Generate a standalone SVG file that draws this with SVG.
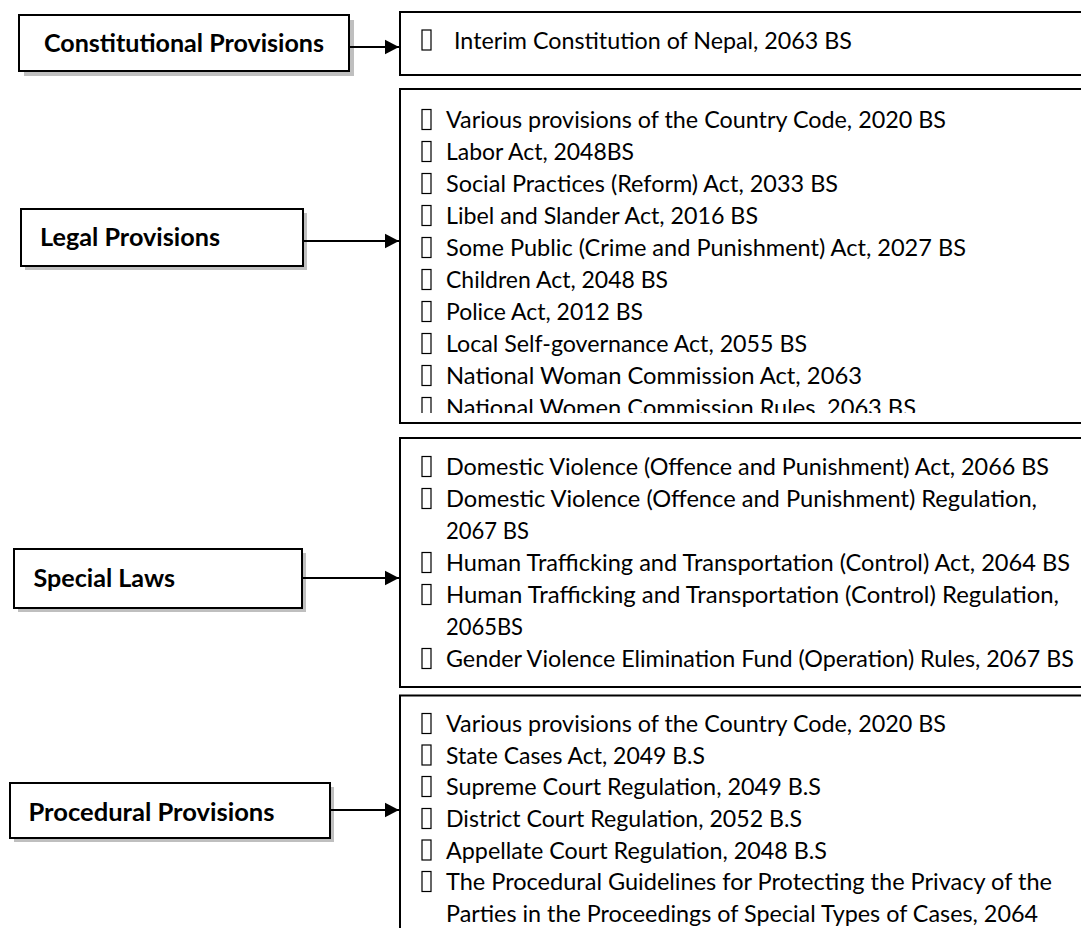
<svg xmlns="http://www.w3.org/2000/svg" width="1081" height="928" viewBox="0 0 1081 928">
<style>
.bg{fill:#ffffff}
.box{fill:#ffffff;stroke:#000000;stroke-width:2}
.shadow{fill:#bfbfbf}
.lbl{font-family:"Lato","Liberation Sans",sans-serif;font-weight:bold;font-size:24.5px;fill:#000000}
.itm{font-family:"Lato","Liberation Sans",sans-serif;font-size:23px;fill:#000000}
.blt{fill:none;stroke:#000000;stroke-width:1.2}
.conn{stroke:#000000;stroke-width:2;fill:none}
</style>
<defs>
<marker id="arrow" markerWidth="8" markerHeight="8" refX="7" refY="4" orient="auto" markerUnits="strokeWidth">
<path d="M0,0.4 L7,4 L0,7.6 Z" fill="#000000"/>
</marker>
<clipPath id="clipLegal"><rect x="400" y="89" width="690" height="324"/></clipPath>
</defs>
<rect class="bg" x="0" y="0" width="1081" height="928"/>

<g id="node-constitutional">
<rect class="shadow" x="24" y="20" width="330" height="56"/>
<rect class="box" x="19" y="15" width="330" height="56"/>
<text class="lbl" x="44" y="51.5" textLength="280" lengthAdjust="spacingAndGlyphs">Constitutional Provisions</text>
</g>

<g id="node-legal">
<rect class="shadow" x="25" y="213" width="282" height="57"/>
<rect class="box" x="21" y="209" width="282" height="57"/>
<text class="lbl" x="40" y="245.5" textLength="180" lengthAdjust="spacingAndGlyphs">Legal Provisions</text>
</g>

<g id="node-special">
<rect class="shadow" x="18" y="553" width="288" height="59"/>
<rect class="box" x="14" y="549" width="288" height="59"/>
<text class="lbl" x="33.5" y="587" textLength="141.5" lengthAdjust="spacingAndGlyphs">Special Laws</text>
</g>

<g id="node-procedural">
<rect class="shadow" x="14" y="787" width="320" height="55"/>
<rect class="box" x="10" y="783" width="320" height="55"/>
<text class="lbl" x="28.5" y="821" textLength="246" lengthAdjust="spacingAndGlyphs">Procedural Provisions</text>
</g>

<g id="node-constitutional-list">
<rect class="box" x="400" y="12" width="700" height="63"/>
<rect class="blt" x="422" y="30" width="9" height="20"/>
<text class="itm" x="454" y="48.5" textLength="398" lengthAdjust="spacingAndGlyphs">Interim Constitution of Nepal, 2063 BS</text>
</g>

<g id="node-legal-list">
<rect class="box" x="400" y="89" width="700" height="334"/>
<g clip-path="url(#clipLegal)">
<rect class="blt" x="422" y="109.5" width="9" height="20"/>
<text class="itm" x="446" y="128" textLength="500" lengthAdjust="spacingAndGlyphs">Various provisions of the Country Code, 2020 BS</text>
<rect class="blt" x="422" y="141.5" width="9" height="20"/>
<text class="itm" x="446" y="160" textLength="188" lengthAdjust="spacingAndGlyphs">Labor Act, 2048BS</text>
<rect class="blt" x="422" y="173.5" width="9" height="20"/>
<text class="itm" x="446" y="192" textLength="392" lengthAdjust="spacingAndGlyphs">Social Practices (Reform) Act, 2033 BS</text>
<rect class="blt" x="422" y="205.5" width="9" height="20"/>
<text class="itm" x="446" y="224" textLength="312" lengthAdjust="spacingAndGlyphs">Libel and Slander Act, 2016 BS</text>
<rect class="blt" x="422" y="237.5" width="9" height="20"/>
<text class="itm" x="446" y="256" textLength="520" lengthAdjust="spacingAndGlyphs">Some Public (Crime and Punishment) Act, 2027 BS</text>
<rect class="blt" x="422" y="269.5" width="9" height="20"/>
<text class="itm" x="446" y="288" textLength="222" lengthAdjust="spacingAndGlyphs">Children Act, 2048 BS</text>
<rect class="blt" x="422" y="301.5" width="9" height="20"/>
<text class="itm" x="446" y="320" textLength="197" lengthAdjust="spacingAndGlyphs">Police Act, 2012 BS</text>
<rect class="blt" x="422" y="333.5" width="9" height="20"/>
<text class="itm" x="446" y="352" textLength="361" lengthAdjust="spacingAndGlyphs">Local Self-governance Act, 2055 BS</text>
<rect class="blt" x="422" y="365.5" width="9" height="20"/>
<text class="itm" x="446" y="384" textLength="416" lengthAdjust="spacingAndGlyphs">National Woman Commission Act, 2063</text>
<rect class="blt" x="422" y="397.5" width="9" height="20"/>
<text class="itm" x="446" y="416" textLength="470" lengthAdjust="spacingAndGlyphs">National Women Commission Rules, 2063 BS</text>
</g>
</g>

<g id="node-special-list">
<rect class="box" x="400" y="438" width="700" height="249"/>
<rect class="blt" x="422" y="456.5" width="9" height="20"/>
<text class="itm" x="446" y="475" textLength="603" lengthAdjust="spacingAndGlyphs">Domestic Violence (Offence and Punishment) Act, 2066 BS</text>
<rect class="blt" x="422" y="488.5" width="9" height="20"/>
<text class="itm" x="446" y="507" textLength="591" lengthAdjust="spacingAndGlyphs">Domestic Violence (Offence and Punishment) Regulation,</text>
<text class="itm" x="446" y="539" textLength="83" lengthAdjust="spacingAndGlyphs">2067 BS</text>
<rect class="blt" x="422" y="552.5" width="9" height="20"/>
<text class="itm" x="446" y="571" textLength="624" lengthAdjust="spacingAndGlyphs">Human Trafficking and Transportation (Control) Act, 2064 BS</text>
<rect class="blt" x="422" y="584.5" width="9" height="20"/>
<text class="itm" x="446" y="603" textLength="613" lengthAdjust="spacingAndGlyphs">Human Trafficking and Transportation (Control) Regulation,</text>
<text class="itm" x="446" y="635" textLength="77" lengthAdjust="spacingAndGlyphs">2065BS</text>
<rect class="blt" x="422" y="648.5" width="9" height="20"/>
<text class="itm" x="446" y="667" textLength="628" lengthAdjust="spacingAndGlyphs">Gender Violence Elimination Fund (Operation) Rules, 2067 BS</text>
</g>

<g id="node-procedural-list">
<rect class="box" x="400" y="695.5" width="700" height="260"/>
<rect class="blt" x="422" y="713.5" width="9" height="20"/>
<text class="itm" x="446" y="732" textLength="500" lengthAdjust="spacingAndGlyphs">Various provisions of the Country Code, 2020 BS</text>
<rect class="blt" x="422" y="745" width="9" height="20"/>
<text class="itm" x="446" y="763.5" textLength="259" lengthAdjust="spacingAndGlyphs">State Cases Act, 2049 B.S</text>
<rect class="blt" x="422" y="776.5" width="9" height="20"/>
<text class="itm" x="446" y="795" textLength="375" lengthAdjust="spacingAndGlyphs">Supreme Court Regulation, 2049 B.S</text>
<rect class="blt" x="422" y="808.5" width="9" height="20"/>
<text class="itm" x="446" y="827" textLength="356" lengthAdjust="spacingAndGlyphs">District Court Regulation, 2052 B.S</text>
<rect class="blt" x="422" y="840" width="9" height="20"/>
<text class="itm" x="446" y="858.5" textLength="381" lengthAdjust="spacingAndGlyphs">Appellate Court Regulation, 2048 B.S</text>
<rect class="blt" x="422" y="871.5" width="9" height="20"/>
<text class="itm" x="446" y="890" textLength="606" lengthAdjust="spacingAndGlyphs">The Procedural Guidelines for Protecting the Privacy of the</text>
<text class="itm" x="446" y="921.5" textLength="592" lengthAdjust="spacingAndGlyphs">Parties in the Proceedings of Special Types of Cases, 2064</text>
</g>

<g id="connectors">
<line class="conn" x1="349" y1="47" x2="399" y2="47" marker-end="url(#arrow)"/>
<line class="conn" x1="303" y1="241" x2="399" y2="241" marker-end="url(#arrow)"/>
<line class="conn" x1="302" y1="578" x2="399" y2="578" marker-end="url(#arrow)"/>
<line class="conn" x1="330" y1="810" x2="399" y2="810" marker-end="url(#arrow)"/>
</g>
</svg>
